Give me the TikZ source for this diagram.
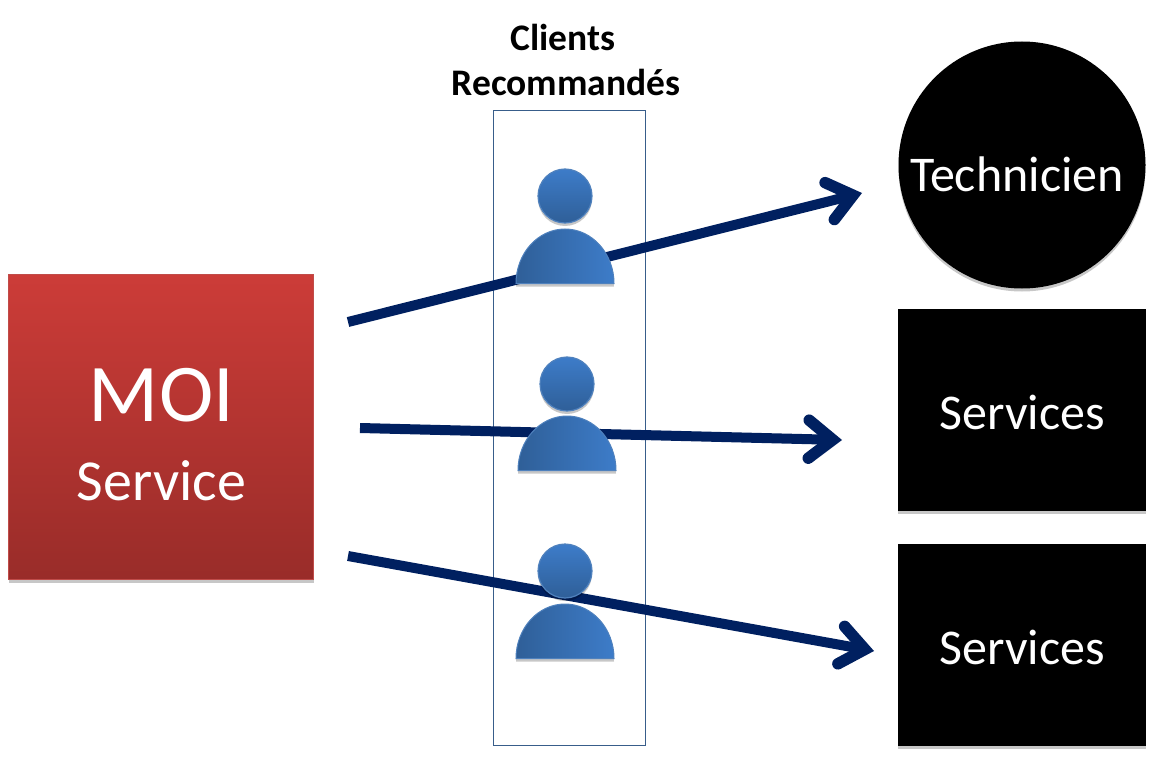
\documentclass[tikz,border=0pt]{standalone}
\usepackage{fontspec}
\setmainfont{Carlito}
\usetikzlibrary{arrows.meta,shadows,calc}
\definecolor{navyline}{HTML}{002060}
\definecolor{frameblue}{HTML}{385D8A}
\definecolor{pblueL}{HTML}{3D7CC9}
\definecolor{pblueD}{HTML}{2F5F98}
\definecolor{pedge}{HTML}{4F81BD}
\definecolor{moitop}{HTML}{CC3C38}
\definecolor{moibot}{HTML}{992C29}
\definecolor{moiedge}{HTML}{C04C49}
\tikzset{
  x=1pt,y=-1pt,
  softshadow/.style={general shadow={fill=black,opacity=.22,shadow xshift=0pt,shadow yshift=-3pt}},
  flow/.style={draw=navyline,line width=10pt,-{Straight Barb[length=24pt,width=38pt,line cap=round,line join=miter,line width=11.5pt]}},
  moibox/.style={top color=moitop,bottom color=moibot,draw=moiedge,line width=1pt,minimum width=305pt,minimum height=305pt,inner sep=0pt,softshadow},
  blackbox/.style={fill=black,minimum width=248pt,minimum height=202pt,inner sep=0pt,softshadow},
  wlabel/.style={text=white,inner sep=0pt,anchor=center},
  head/.style={circle,draw=pedge,line width=1.2pt,top color=pblueL,bottom color=pblueD,minimum size=54pt,inner sep=0pt,softshadow},
  body/.style={draw=pedge,line width=1pt,left color=pblueD,right color=pblueL,softshadow},
}
\newcommand{\fs}[1]{\fontsize{#1}{#1}\selectfont}
\begin{document}
\begin{tikzpicture}
\useasboundingbox (0,0) rectangle (1160,757);
% frame
\node[draw=frameblue,line width=1pt,minimum width=152pt,minimum height=634pt,inner sep=0pt] (frame) at (569,428) {};
% MOI box
\node[moibox] (moi) at (161,427) {};
\node[wlabel,font=\fs{82}] (moit) at (161.5,395) {MOI};
\node[wlabel,font=\fs{58}] (serv) at (161.5,481) {Service};
% right column
\node[circle,fill=black,minimum size=247pt,inner sep=0pt,softshadow] (tech) at (1022,165) {};
\node[wlabel,font=\fs{50}] (techt) at (1017,174) {Technicien};
\node[blackbox] (s1) at (1022,410) {};
\node[wlabel,font=\fs{50}] (s1t) at (1022,412) {Services};
\node[blackbox] (s2) at (1022,645) {};
\node[wlabel,font=\fs{50}] (s2t) at (1022,647) {Services};
% title
\node[font=\bfseries\fs{37.5},inner sep=0pt] (c1) at (563,37) {Clients};
\node[font=\bfseries\fs{37.5},inner sep=0pt] (c2) at (566,82) {Recommandés};
% arrows
\coordinate (a1s) at (348,322); \coordinate (a1e) at (862,193);
\coordinate (a2s) at (360,428); \coordinate (a2e) at (842,440);
\coordinate (a3s) at (348,556); \coordinate (a3e) at (874,651);
\draw[flow] (a1s) -- (a1e);
\draw[flow] (a2s) -- (a2e);
\draw[flow] (a3s) -- (a3e);
% persons
\foreach \n/\cx/\hy/\by in {a/565/196/283.5,b/567/384/470.5,c/565/571/658.5}{
  \path[body] (\cx-49,\by) arc[start angle=180,end angle=0,x radius=49,y radius=-54.5] -- cycle;
  \node[head] (h\n) at (\cx,\hy) {};
}
\end{tikzpicture}
\end{document}
